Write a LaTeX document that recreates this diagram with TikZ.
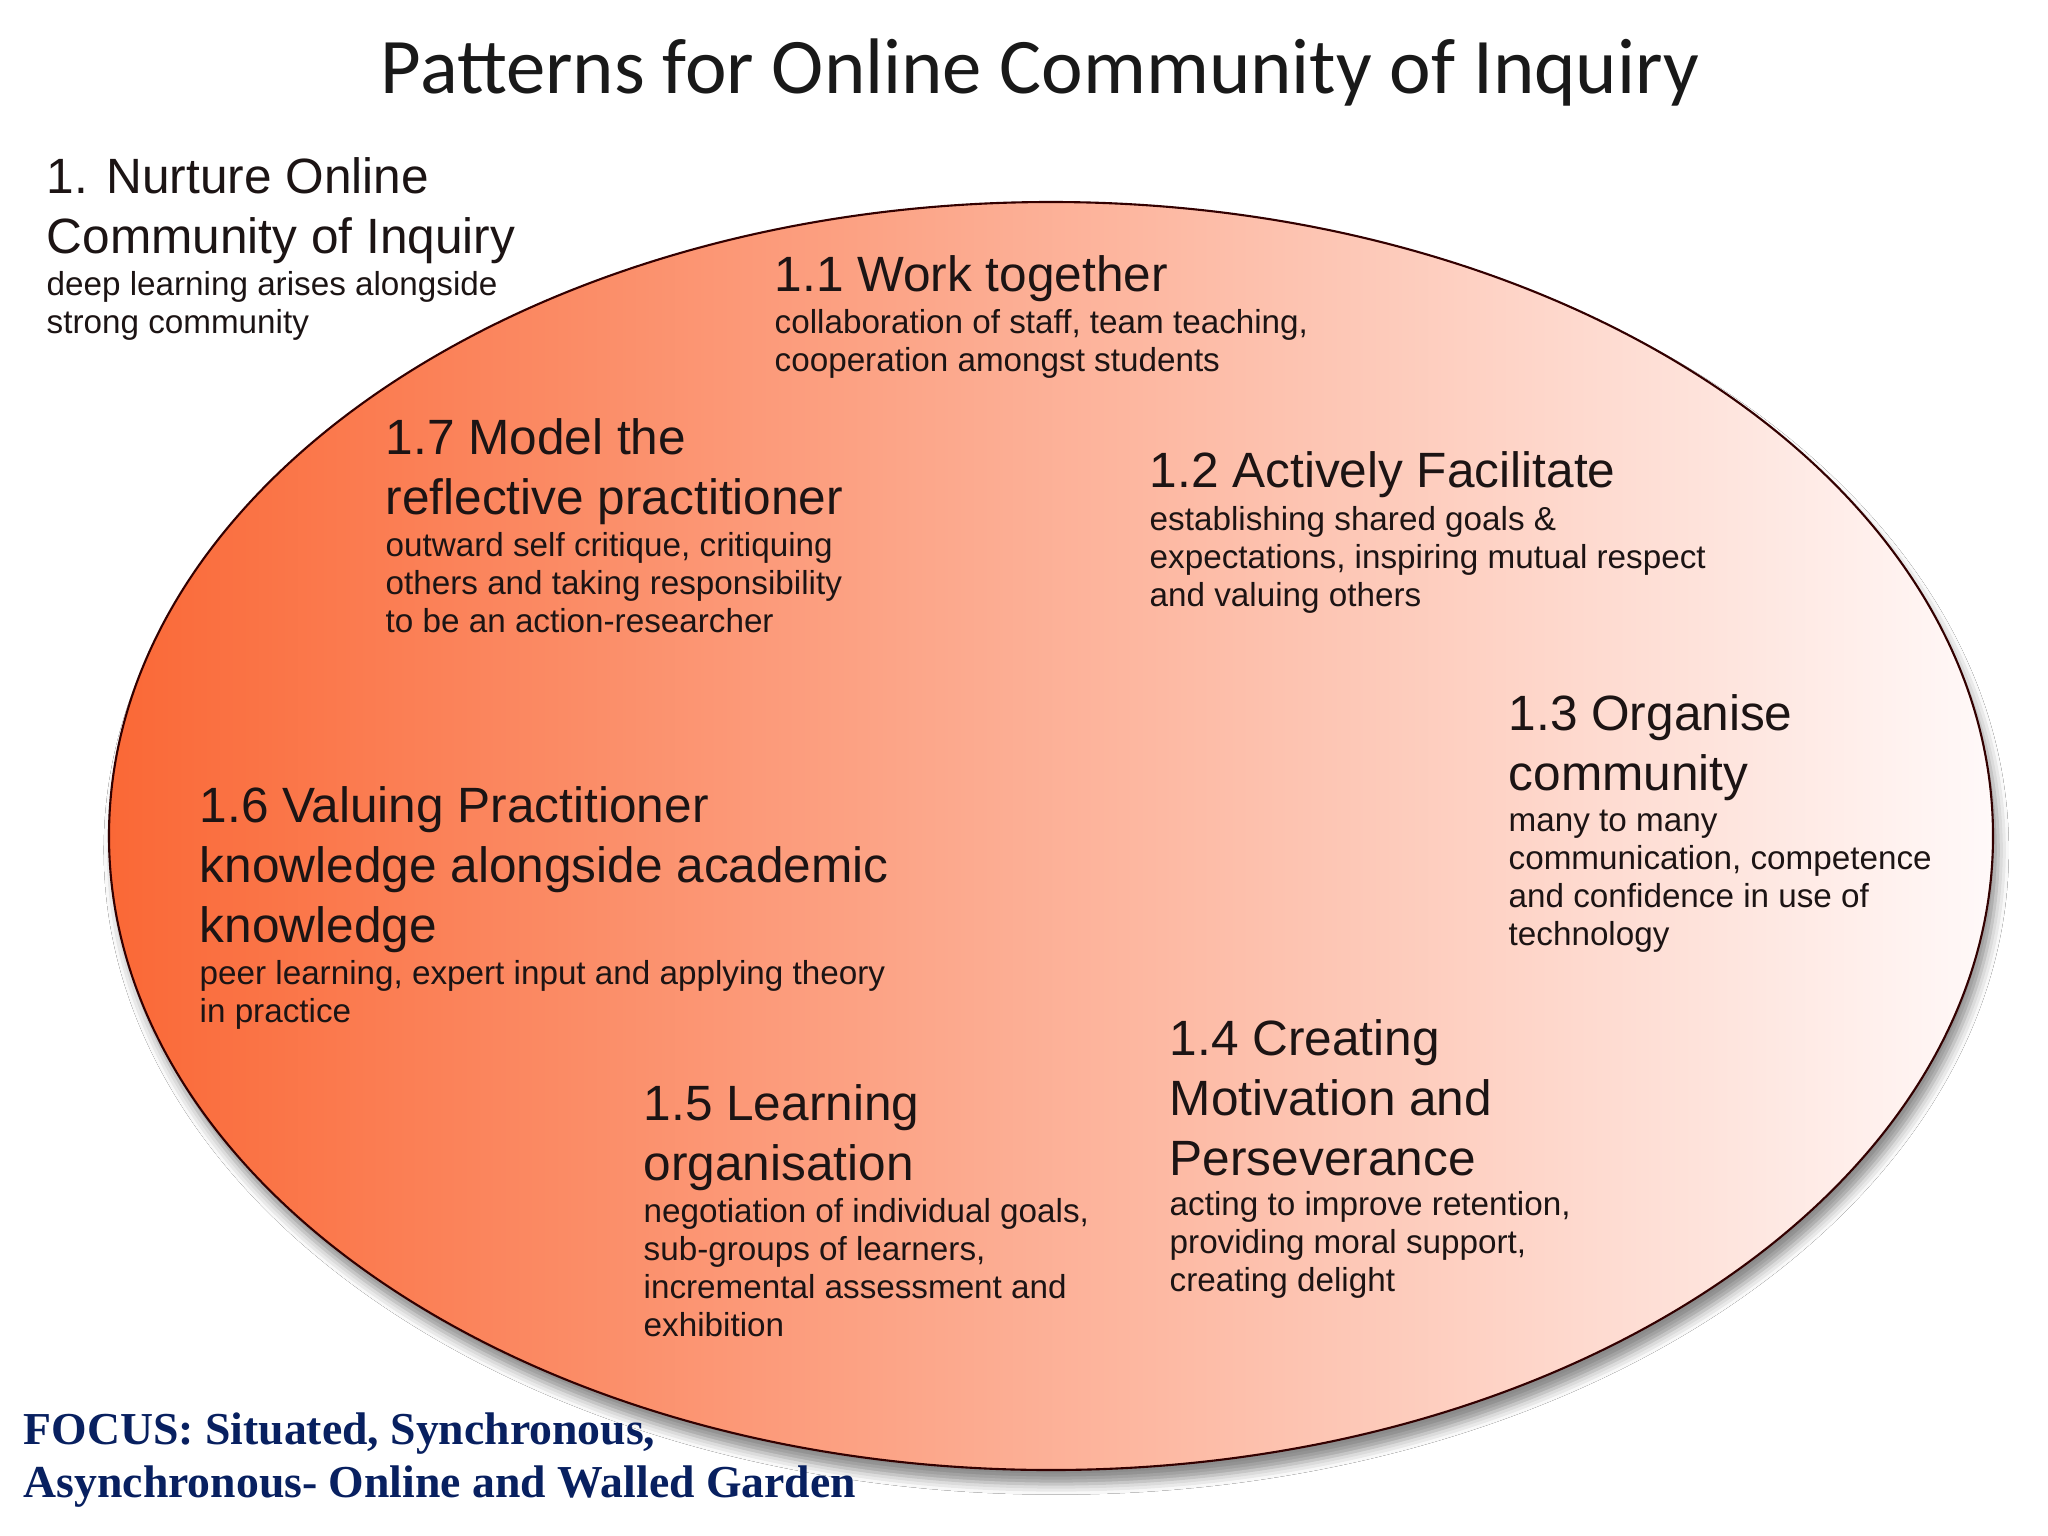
\documentclass[tikz,border=0pt]{standalone}
\usepackage{fontspec}
\setmainfont{Liberation Sans}
\newfontfamily\titlefont{Carlito}
\newfontfamily\focusfont{Liberation Serif}
\usetikzlibrary{shadows.blur}

\definecolor{cohleft}{RGB}{250,104,54}
\definecolor{cohmid}{RGB}{253,166,138}
\definecolor{cohright}{RGB}{255,249,249}
\definecolor{focusblue}{RGB}{8,32,96}
\definecolor{ink}{RGB}{28,20,20}

\tikzset{
  head/.style={anchor=north west, inner sep=0pt, align=left, text=ink,
    font=\fontsize{14.1}{17}\selectfont},
  desc/.style={anchor=north west, inner sep=0pt, align=left, text=ink,
    font=\fontsize{9.45}{10.8}\selectfont}
}

\begin{document}
\begin{tikzpicture}[x=0.01cm, y=-0.01cm]
  % Page
  \fill[white] (0,0) rectangle (2048,1536);
  \useasboundingbox (0,0) rectangle (2048,1536);

  % Title
  \node[anchor=base, inner sep=0pt, text=black!90, font=\titlefont\fontsize{22.4}{26}\selectfont] (title) at (1040,93)
    {Patterns for Online Community of Inquiry};

  % Community ellipse
  \shade[left color=cohleft, middle color=cohmid, right color=cohright,
    draw=black!80!red, line width=0.6pt,
    blur shadow={shadow xshift=1.5pt, shadow yshift=-4pt, shadow blur radius=3pt, shadow opacity=45}]
    (1051,836) ellipse [x radius=942, y radius=634];

  % Outer pattern
  \node[head] (h0) at (46,157) {1. Nurture Online\\Community of Inquiry};
  \node[desc] (d0) at (46,271) {deep learning arises alongside\\strong community};

  % Patterns in the ellipse
  \node[head] (h1) at (774,255) {1.1 Work together};
  \node[desc] (d1) at (774,309) {collaboration of staff, team teaching,\\cooperation amongst students};

  \node[head] (h2) at (1149,451) {1.2 Actively Facilitate};
  \node[desc] (d2) at (1149,506) {establishing shared goals \&\\expectations, inspiring mutual respect\\and valuing others};

  \node[head] (h3) at (1508,694) {1.3 Organise\\community};
  \node[desc] (d3) at (1508,809) {many to many\\communication, competence\\and confidence in use of\\technology};

  \node[head] (h4) at (1169,1019) {1.4 Creating\\Motivation and\\Perseverance};
  \node[desc] (d4) at (1169,1191) {acting to improve retention,\\providing moral support,\\creating delight};

  \node[head] (h5) at (643,1084) {1.5 Learning\\organisation};
  \node[desc] (d5) at (643,1198) {negotiation of individual goals,\\sub-groups of learners,\\incremental assessment and\\exhibition};

  \node[head] (h6) at (199,786) {1.6 Valuing Practitioner\\knowledge alongside academic\\knowledge};
  \node[desc] (d6) at (199,960) {peer learning, expert input and applying theory\\in practice};

  \node[head] (h7) at (385,418) {1.7 Model the\\reflective practitioner};
  \node[desc] (d7) at (385,532) {outward self critique, critiquing\\others and taking responsibility\\to be an action-researcher};

  % Focus note
  \node[anchor=north west, inner sep=0pt, align=left, text=focusblue,
    font=\focusfont\bfseries\fontsize{13}{15.2}\selectfont] (focus) at (23,1412)
    {FOCUS: Situated, Synchronous,\\Asynchronous- Online and Walled Garden};
\end{tikzpicture}
\end{document}
